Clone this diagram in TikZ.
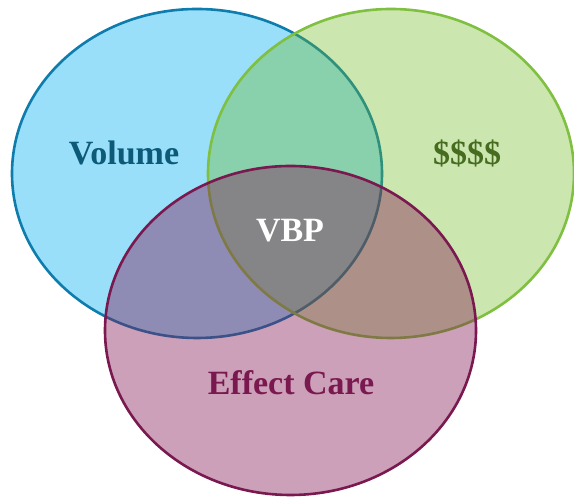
\documentclass[tikz,border=0pt]{standalone}
\usepackage{fontspec}
\setmainfont{Liberation Serif}
\definecolor{volfill}{RGB}{153,223,249}
\definecolor{volline}{RGB}{14,125,174}
\definecolor{voltext}{RGB}{12,90,120}
\definecolor{cashfill}{RGB}{109,183,29}
\definecolor{cashline}{RGB}{128,192,64}
\definecolor{cashtext}{RGB}{70,108,32}
\definecolor{carefill}{RGB}{127,17,77}
\definecolor{careline}{RGB}{122,24,80}
\tikzset{
  settext/.style={font=\bfseries\fontsize{34}{40}\selectfont, inner sep=0pt},
  setline/.style={line width=2.6pt}
}
\begin{document}
\begin{tikzpicture}[x=1pt,y=1pt]
  \useasboundingbox (0,0) rectangle (574,497);
  % Volume
  \fill[volfill] (197,323.5) ellipse [x radius=185, y radius=164.5];
  \draw[setline, volline] (197,323.5) ellipse [x radius=185, y radius=164.5];
  % $$$$
  \fill[cashfill, fill opacity=0.35] (391,323.5) ellipse [x radius=183, y radius=164.5];
  \draw[setline, cashline] (391,323.5) ellipse [x radius=183, y radius=164.5];
  % Effect Care
  \fill[carefill, fill opacity=0.4] (290.5,166.5) ellipse [x radius=185.5, y radius=164.5];
  \draw[setline, careline] (290.5,166.5) ellipse [x radius=185.5, y radius=164.5];
  % textes
  \node[settext, text=voltext] (volume) at (124,344) {Volume};
  \node[settext, text=cashtext] (cash) at (467,344) {\$\$\$\$};
  \node[settext, text=white] (vbp) at (290,266) {VBP};
  \node[settext, text=careline] (care) at (291,114) {Effect Care};
\end{tikzpicture}
\end{document}
